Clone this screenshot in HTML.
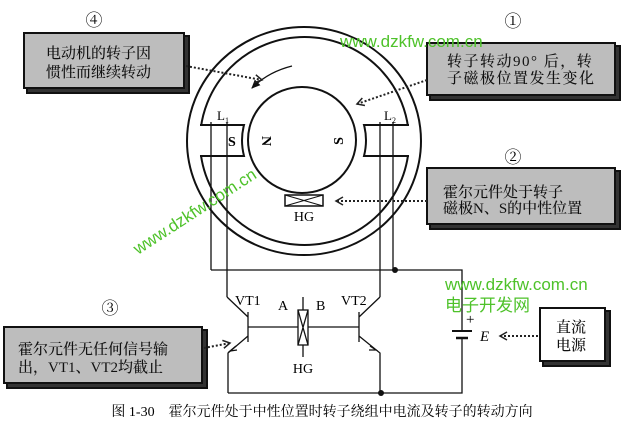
<!DOCTYPE html>
<html><head><meta charset="utf-8"><style>
html,body{margin:0;padding:0;background:#fff;}
svg{display:block;}
text{font-family:"Liberation Serif","Noto Serif CJK SC",serif;}
.cj{font-family:"Liberation Serif","Noto Serif CJK SC",serif;font-size:15px;fill:#111;font-weight:500;}
.wm{font-family:"Liberation Sans","Noto Sans CJK SC",sans-serif;fill:#4ec22a;}
</style></head><body>
<svg width="621" height="435" viewBox="0 0 621 435" xmlns="http://www.w3.org/2000/svg">
<defs>
<marker id="ah" markerWidth="10" markerHeight="10" refX="8" refY="5" orient="auto" markerUnits="userSpaceOnUse">
<path d="M1,1 L8,5 L1,9" fill="none" stroke="#222" stroke-width="1.5"/></marker>
<marker id="sa" markerWidth="10" markerHeight="10" refX="8" refY="5" orient="auto" markerUnits="userSpaceOnUse">
<path d="M0,1 L9,5 L0,9 Z" fill="#111"/></marker>
</defs>
<g fill="none" stroke="#111" stroke-width="2">
<ellipse cx="304" cy="141" rx="117" ry="114"/>
<ellipse cx="304.5" cy="141" rx="104.5" ry="104"/>
</g>
<rect x="196" y="126" width="10" height="29" fill="#fff"/>
<rect x="403" y="126" width="10" height="29" fill="#fff"/>
<g fill="none" stroke="#111" stroke-width="2">
<path d="M200,125 H244 Q240,140 244,156 H200"/>
<path d="M409,125 H364 Q368,140 364,156 H409"/>
<ellipse cx="302" cy="140" rx="54" ry="53"/>
<rect x="285" y="195" width="38" height="11" stroke-width="1.5"/>
<path d="M285,195 L323,206 M285,206 L323,195" stroke-width="1"/>
<path d="M292,66 Q268,72 252,88" stroke-width="1.3" marker-end="url(#sa)"/>
</g>
<g fill="none" stroke="#111" stroke-width="1.3">
<line x1="211" y1="122" x2="211" y2="270"/>
<line x1="227" y1="122" x2="227" y2="297"/>
<line x1="380" y1="122" x2="380" y2="297"/>
<line x1="393" y1="122" x2="393" y2="270"/>
<polyline points="211,270 462,270 462,331"/>
<polyline points="462,337 462,393 228,393"/>
<line x1="452" y1="331" x2="472" y2="331" stroke-width="2"/>
<line x1="456" y1="338" x2="468" y2="338" stroke-width="2.5"/>
<path d="M227,297 L248,317 M248,312 V342 M248,336 L228,353 V393" />
<path d="M380,297 L359,317 M359,312 V342 M359,336 L380,353 V393"/>
<line x1="248" y1="327" x2="298" y2="327"/>
<line x1="308" y1="327" x2="359" y2="327"/>
<rect x="298" y="310" width="10" height="35"/>
<path d="M298,310 L308,345 M308,310 L298,345"/>
<line x1="303" y1="297" x2="303" y2="310"/>
<line x1="303" y1="345" x2="303" y2="357"/>
</g>
<path d="M236,346 L230,351 L237,350" fill="none" stroke="#111" stroke-width="1.3"/>
<path d="M370,346 L376,350 L369,350" fill="none" stroke="#111" stroke-width="1.3"/>
<circle cx="395" cy="270" r="3" fill="#111"/>
<circle cx="381" cy="393" r="3" fill="#111"/>
<text x="466" y="324" font-size="15">+</text>
<text x="480" y="341" font-size="15" font-style="italic">E</text>
<text x="217" y="120" font-size="13">L<tspan font-size="8" dy="3">1</tspan></text>
<text x="384" y="120" font-size="13">L<tspan font-size="8" dy="3">2</tspan></text>
<text x="228" y="146" font-size="14" font-family="Liberation Sans" font-weight="bold">S</text>
<text transform="translate(262,141) rotate(90)" font-size="14" font-family="Liberation Sans" font-weight="bold" text-anchor="middle">N</text>
<text transform="translate(343,141) rotate(-90)" font-size="14" font-family="Liberation Sans" font-weight="bold" text-anchor="middle">S</text>
<text x="304" y="221" font-size="14" text-anchor="middle">HG</text>
<text x="303" y="373" font-size="14" text-anchor="middle">HG</text>
<text x="235" y="305" font-size="14">VT1</text>
<text x="341" y="305" font-size="14">VT2</text>
<text x="278" y="310" font-size="14">A</text>
<text x="316" y="310" font-size="14">B</text>
<g stroke="#111" stroke-width="2">
<rect x="27" y="36" width="162" height="57" fill="#333"/>
<rect x="24" y="33" width="160" height="55" fill="#bdbdbd"/>
<rect x="430" y="46" width="190" height="54" fill="#333"/>
<rect x="427" y="43" width="188" height="52" fill="#bdbdbd"/>
<rect x="430" y="171" width="190" height="58" fill="#333"/>
<rect x="427" y="168" width="188" height="56" fill="#bdbdbd"/>
<rect x="7" y="330" width="200" height="58" fill="#333"/>
<rect x="4" y="327" width="198" height="56" fill="#bdbdbd"/>
<rect x="543" y="311" width="67" height="55" fill="#333"/>
<rect x="540" y="308" width="65" height="53" fill="#fff"/>
</g>
<g font-size="17">
<text x="94" y="26" text-anchor="middle">④</text>
<text x="513" y="27" text-anchor="middle">①</text>
<text x="513" y="163" text-anchor="middle">②</text>
<text x="110" y="314" text-anchor="middle">③</text>
</g>
<text class="cj" x="46" y="58">电动机的转子因</text>
<text class="cj" x="46" y="77">惯性而继续转动</text>
<text class="cj" x="447" y="66" letter-spacing="1.5">转子转动90° 后，转</text>
<text class="cj" x="447" y="83" letter-spacing="1.5">子磁极位置发生变化</text>
<text class="cj" x="443" y="197">霍尔元件处于转子</text>
<text class="cj" x="443" y="213">磁极N、S的中性位置</text>
<text class="cj" x="18" y="354">霍尔元件无任何信号输</text>
<text class="cj" x="18" y="372">出，VT1、VT2均截止</text>
<text class="cj" x="556" y="332">直流</text>
<text class="cj" x="556" y="350">电源</text>
<g fill="none" stroke="#222" stroke-width="2" stroke-dasharray="2,2">
<line x1="186" y1="66" x2="262" y2="80" marker-end="url(#ah)"/>
<line x1="427" y1="80" x2="357" y2="104" marker-end="url(#ah)"/>
<line x1="427" y1="201" x2="336" y2="201" marker-end="url(#ah)"/>
<line x1="204" y1="348" x2="230" y2="343" marker-end="url(#ah)"/>
<line x1="538" y1="336" x2="500" y2="336" marker-end="url(#ah)"/>
</g>
<text x="322" y="416" font-size="14" text-anchor="middle">图 1-30　霍尔元件处于中性位置时转子绕组中电流及转子的转动方向</text>
<text class="wm" x="340" y="47" font-size="17">www.dzkfw.com.cn</text>
<text class="wm" x="445" y="290" font-size="17">www.dzkfw.com.cn</text>
<text class="wm" x="445" y="311" font-size="17">电子开发网</text>
<text class="wm" transform="translate(138,255) rotate(-33)" font-size="17">www.dzkfw.com.cn</text>
</svg>
</body></html>
